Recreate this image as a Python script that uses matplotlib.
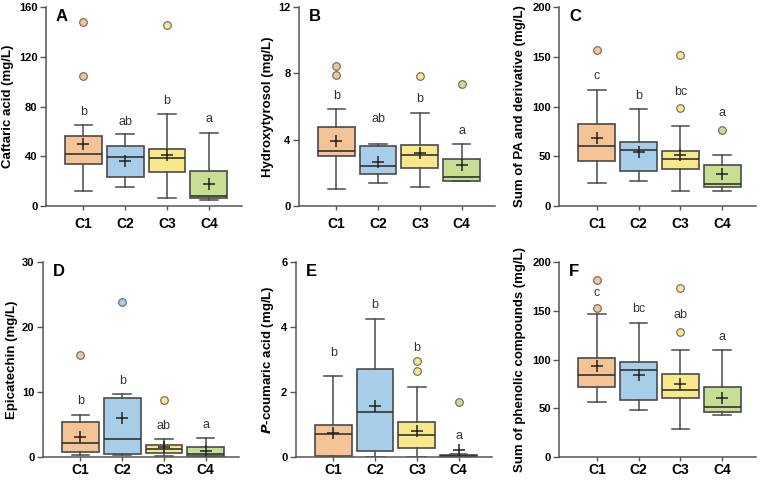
import matplotlib
matplotlib.use('Agg')
import matplotlib.pyplot as plt

plt.rcParams['font.family'] = ['Liberation Sans', 'DejaVu Sans']

groups = ['C1', 'C2', 'C3', 'C4']
box_colors = ['#F5C496', '#A8CDE8', '#F9E88B', '#C8DF93']

# A - caftaric acid
caf_lo = [11.8, 15.6, 6.7, 5.1]
caf_q1 = [34.1, 22.9, 27.4, 6.5]
caf_med = [41.7, 39.4, 38.7, 8.1]
caf_q3 = [56.2, 48.2, 45.7, 28.2]
caf_hi = [64.8, 57.8, 73.7, 58.9]
caf_mean = [49.5, 36.4, 40.9, 18.0]
caf_out = [[148.4, 104.6], [], [145.5], []]
caf_let = ['b', 'ab', 'b', 'a']
caf_let_y = [76, 67.5, 84.7, 70]

# B - hydroxytyrosol
hyd_lo = [1.05, 1.37, 1.15, 1.5]
hyd_q1 = [3.0, 1.94, 2.26, 1.53]
hyd_med = [3.31, 2.43, 3.05, 1.75]
hyd_q3 = [4.78, 3.64, 3.65, 2.86]
hyd_hi = [5.83, 3.74, 5.63, 3.73]
hyd_mean = [3.93, 2.66, 3.2, 2.5]
hyd_out = [[8.47, 7.89], [], [7.83], [7.34]]
hyd_let = ['b', 'ab', 'b', 'a']
hyd_let_y = [6.66, 5.24, 6.45, 4.54]

# C - sum of PA and derivative
pa_lo = [23.2, 25.2, 15.1, 15.1]
pa_q1 = [45.0, 35.0, 37.3, 19.5]
pa_med = [60.8, 56.1, 47.4, 21.8]
pa_q3 = [82.7, 64.2, 55.1, 41.0]
pa_hi = [116.6, 97.1, 80.0, 51.4]
pa_mean = [67.9, 54.4, 51.1, 31.9]
pa_out = [[157.0], [], [151.9, 98.5], [76.6]]
pa_let = ['c', 'b', 'bc', 'a']
pa_let_y = [130.7, 111, 115, 93.4]

# D - epicatechin
epi_lo = [0.35, 0.25, 0.2, 0.05]
epi_q1 = [0.7, 0.5, 0.6, 0.2]
epi_med = [2.11, 2.81, 1.26, 0.5]
epi_q3 = [5.43, 9.05, 1.81, 1.51]
epi_hi = [6.43, 9.75, 2.76, 2.96]
epi_mean = [3.07, 5.98, 1.46, 0.95]
epi_out = [[15.73], [23.8], [8.74], []]
epi_let = ['b', 'b', 'ab', 'a']
epi_let_y = [8.54, 11.66, 4.77, 4.97]

# E - p-coumaric acid
cou_lo = [0.0, 0.0, 0.0, 0.0]
cou_q1 = [0.02, 0.19, 0.27, 0.02]
cou_med = [0.72, 1.39, 0.69, 0.03]
cou_q3 = [0.97, 2.71, 1.09, 0.05]
cou_hi = [2.5, 4.26, 2.14, 0.08]
cou_mean = [0.73, 1.56, 0.81, 0.2]
cou_out = [[], [], [2.96, 2.66], [1.69]]
cou_let = ['b', 'b', 'b', 'a']
cou_let_y = [3.2, 4.68, 3.35, 0.66]

# F - sum of phenolic compounds
phe_lo = [56.8, 48.6, 29.2, 43.4]
phe_q1 = [71.3, 58.7, 60.8, 46.0]
phe_med = [84.0, 89.6, 68.6, 50.8]
phe_q3 = [101.8, 97.6, 84.7, 72.0]
phe_hi = [146.5, 137.5, 109.9, 109.9]
phe_mean = [93.1, 84.5, 75.3, 60.2]
phe_out = [[181.2, 153.3], [], [173.8, 128.4], []]
phe_let = ['c', 'bc', 'ab', 'a']
phe_let_y = [168.7, 152, 145.9, 122.7]

panels = [
    ('A', 'Caftaric acid (mg/L)', [0, 40, 80, 120, 160],
     caf_lo, caf_q1, caf_med, caf_q3, caf_hi, caf_mean, caf_out, caf_let, caf_let_y),
    ('B', 'Hydroxytyrosol (mg/L)', [0, 4, 8, 12],
     hyd_lo, hyd_q1, hyd_med, hyd_q3, hyd_hi, hyd_mean, hyd_out, hyd_let, hyd_let_y),
    ('C', 'Sum of PA and derivative (mg/L)', [0, 50, 100, 150, 200],
     pa_lo, pa_q1, pa_med, pa_q3, pa_hi, pa_mean, pa_out, pa_let, pa_let_y),
    ('D', 'Epicatechin (mg/L)', [0, 10, 20, 30],
     epi_lo, epi_q1, epi_med, epi_q3, epi_hi, epi_mean, epi_out, epi_let, epi_let_y),
    ('E', r'$\bfit{P}$-coumaric acid (mg/L)', [0, 2, 4, 6],
     cou_lo, cou_q1, cou_med, cou_q3, cou_hi, cou_mean, cou_out, cou_let, cou_let_y),
    ('F', 'Sum of phenolic compounds (mg/L)', [0, 50, 100, 150, 200],
     phe_lo, phe_q1, phe_med, phe_q3, phe_hi, phe_mean, phe_out, phe_let, phe_let_y),
]

# axes rectangles in figure fraction
rects = [
    [0.060, 0.571, 0.257, 0.414],
    [0.391, 0.571, 0.257, 0.414],
    [0.732, 0.571, 0.257, 0.414],
    [0.056, 0.048, 0.257, 0.406],
    [0.387, 0.048, 0.257, 0.406],
    [0.732, 0.048, 0.257, 0.406],
]
xpads = [5, 5, 5, 1, 1, 1]
label_x = [-0.163, -0.128, -0.168, -0.128, -0.102, -0.168]

edge = '#4a4a4a'
fig = plt.figure(figsize=(7.64, 4.8), dpi=100)

for rect, xpad, lx, (tag, ylabel, yticks, lo, q1, med, q3, hi, mean, out, lets, lets_y) in zip(rects, xpads, label_x, panels):
    ax = fig.add_axes(rect)
    stats = []
    for i in range(4):
        stats.append(dict(whislo=lo[i], q1=q1[i], med=med[i], q3=q3[i],
                          whishi=hi[i], mean=mean[i], fliers=out[i]))
    pos = [1, 2, 3, 4]
    bp = ax.bxp(stats, positions=pos, widths=0.88, patch_artist=True,
                showmeans=True, capwidths=0.42,
                boxprops=dict(edgecolor=edge, linewidth=1.2),
                medianprops=dict(color='#333333', linewidth=1.2),
                whiskerprops=dict(color=edge, linewidth=1.1),
                capprops=dict(color=edge, linewidth=1.1),
                meanprops=dict(marker='+', markeredgecolor='#222222',
                               markersize=8, markeredgewidth=1.1),
                flierprops=dict(marker='o', markersize=5.5,
                                markeredgecolor='#666666', markeredgewidth=0.8))
    for patch, c in zip(bp['boxes'], box_colors):
        patch.set_facecolor(c)
    for fl, c in zip(bp['fliers'], box_colors):
        fl.set_markerfacecolor(c)
    for p, t, y in zip(pos, lets, lets_y):
        ax.text(p, y, t, ha='center', va='center', fontsize=9, color='#333333')

    ax.set_xlim(0.1, 4.8)
    ax.set_ylim(yticks[0], yticks[-1])
    ax.set_yticks(yticks)
    ax.set_xticks(pos)
    ax.set_xticklabels(groups)
    ax.tick_params(axis='x', length=3, width=1, color='#555555', pad=xpad, labelsize=10)
    ax.tick_params(axis='y', length=4, width=1, color='#555555', labelsize=8, pad=2)
    for lab in ax.get_xticklabels() + ax.get_yticklabels():
        lab.set_fontweight('bold')
    for s in ['top', 'right']:
        ax.spines[s].set_visible(False)
    for s in ['left', 'bottom']:
        ax.spines[s].set_color('#555555')
        ax.spines[s].set_linewidth(1.1)
    ax.set_ylabel(ylabel, fontsize=9.5, fontweight='bold')
    ax.yaxis.set_label_coords(lx, 0.5)
    ax.text(0.05, 0.99, tag, transform=ax.transAxes, ha='left', va='top',
            fontsize=12, fontweight='bold')

fig.savefig('out.png', dpi=100)
